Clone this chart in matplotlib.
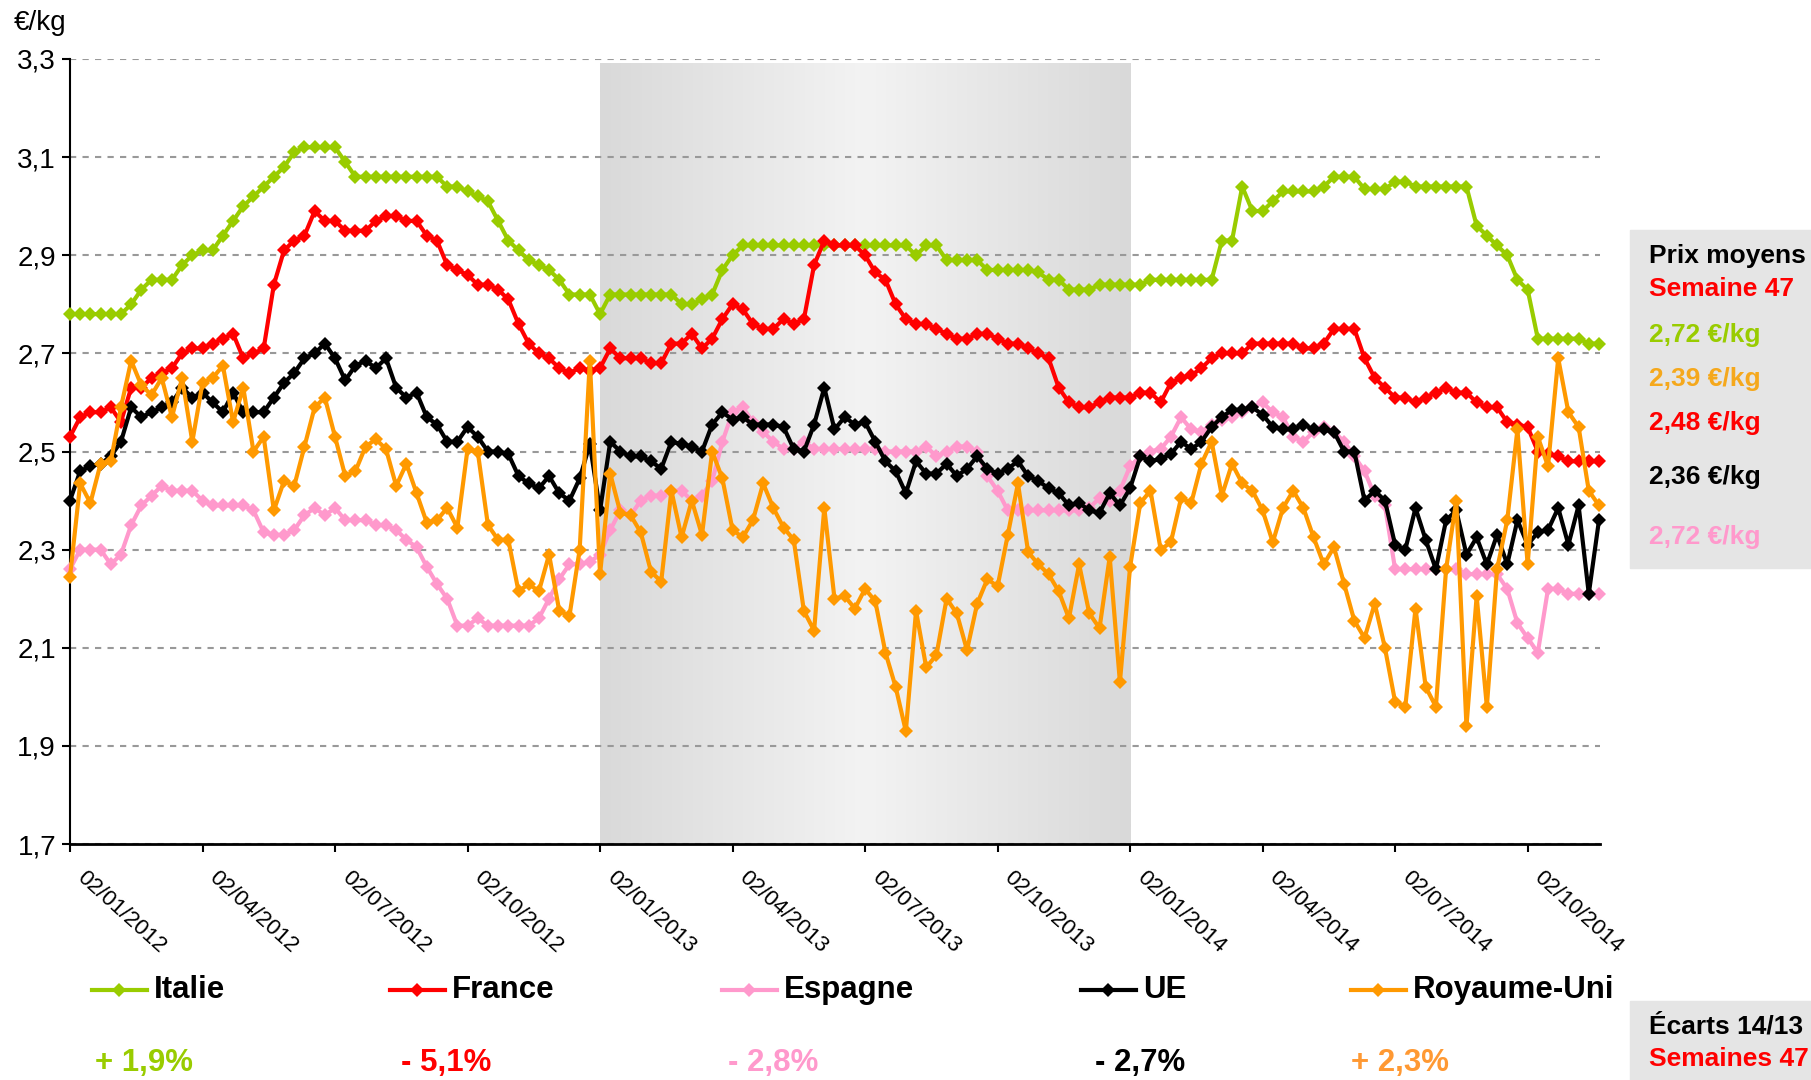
import numpy as np
import matplotlib
matplotlib.use('Agg')
import matplotlib.pyplot as plt
from matplotlib.colors import LinearSegmentedColormap
from matplotlib.lines import Line2D
from matplotlib.transforms import ScaledTranslation

plt.rcParams['font.family'] = ['Liberation Sans', 'DejaVu Sans']

# weekly prices, week 1 2012 -> week 47 2014 (151 weeks)
italie = [
    2.78, 2.78, 2.78, 2.78, 2.78, 2.78, 2.80, 2.83, 2.85, 2.85,
    2.85, 2.88, 2.90, 2.91, 2.91, 2.94, 2.97, 3.00, 3.02, 3.04,
    3.06, 3.08, 3.11, 3.12, 3.12, 3.12, 3.12, 3.09, 3.06, 3.06,
    3.06, 3.06, 3.06, 3.06, 3.06, 3.06, 3.06, 3.04, 3.04, 3.03,
    3.02, 3.01, 2.97, 2.93, 2.91, 2.89, 2.88, 2.87, 2.85, 2.82,
    2.82, 2.82, 2.78, 2.82, 2.82, 2.82, 2.82, 2.82, 2.82, 2.82,
    2.80, 2.80, 2.81, 2.82, 2.87, 2.90, 2.92, 2.92, 2.92, 2.92,
    2.92, 2.92, 2.92, 2.92, 2.92, 2.92, 2.92, 2.92, 2.92, 2.92,
    2.92, 2.92, 2.92, 2.90, 2.92, 2.92, 2.89, 2.89, 2.89, 2.89,
    2.87, 2.87, 2.87, 2.87, 2.87, 2.865, 2.85, 2.85, 2.83, 2.83,
    2.83, 2.84, 2.84, 2.84, 2.84, 2.84, 2.85, 2.85, 2.85, 2.85,
    2.85, 2.85, 2.85, 2.93, 2.93, 3.04, 2.99, 2.99, 3.01, 3.03,
    3.03, 3.03, 3.03, 3.04, 3.06, 3.06, 3.06, 3.035, 3.035, 3.035,
    3.05, 3.05, 3.04, 3.04, 3.04, 3.04, 3.04, 3.04, 2.96, 2.94,
    2.92, 2.90, 2.85, 2.83, 2.73, 2.73, 2.73, 2.73, 2.73, 2.72,
    2.72]
france = [
    2.53, 2.57, 2.58, 2.58, 2.59, 2.56, 2.63, 2.63, 2.65, 2.66,
    2.67, 2.70, 2.71, 2.71, 2.72, 2.73, 2.74, 2.69, 2.70, 2.71,
    2.84, 2.91, 2.93, 2.94, 2.99, 2.97, 2.97, 2.95, 2.95, 2.95,
    2.97, 2.98, 2.98, 2.97, 2.97, 2.94, 2.93, 2.88, 2.87, 2.86,
    2.84, 2.84, 2.83, 2.81, 2.76, 2.72, 2.70, 2.69, 2.67, 2.66,
    2.67, 2.665, 2.67, 2.71, 2.69, 2.69, 2.69, 2.68, 2.68, 2.72,
    2.72, 2.74, 2.71, 2.73, 2.77, 2.80, 2.79, 2.76, 2.75, 2.75,
    2.77, 2.76, 2.77, 2.88, 2.93, 2.92, 2.92, 2.92, 2.90, 2.865,
    2.85, 2.80, 2.77, 2.76, 2.76, 2.75, 2.74, 2.73, 2.73, 2.74,
    2.74, 2.73, 2.72, 2.72, 2.71, 2.70, 2.69, 2.63, 2.60, 2.59,
    2.59, 2.60, 2.61, 2.61, 2.61, 2.62, 2.62, 2.60, 2.64, 2.65,
    2.655, 2.67, 2.69, 2.70, 2.70, 2.70, 2.72, 2.72, 2.72, 2.72,
    2.72, 2.71, 2.71, 2.72, 2.75, 2.75, 2.75, 2.69, 2.65, 2.63,
    2.61, 2.61, 2.60, 2.61, 2.62, 2.63, 2.62, 2.62, 2.60, 2.59,
    2.59, 2.56, 2.555, 2.55, 2.50, 2.495, 2.49, 2.48, 2.48, 2.48,
    2.48]
espagne = [
    2.26, 2.30, 2.30, 2.30, 2.27, 2.29, 2.35, 2.39, 2.41, 2.43,
    2.42, 2.42, 2.42, 2.40, 2.39, 2.39, 2.39, 2.39, 2.38, 2.335,
    2.33, 2.33, 2.34, 2.37, 2.385, 2.37, 2.385, 2.36, 2.36, 2.36,
    2.35, 2.35, 2.34, 2.32, 2.305, 2.265, 2.23, 2.20, 2.145, 2.145,
    2.16, 2.145, 2.145, 2.145, 2.145, 2.145, 2.16, 2.20, 2.24, 2.27,
    2.27, 2.275, 2.29, 2.34, 2.38, 2.37, 2.40, 2.41, 2.41, 2.42,
    2.42, 2.40, 2.41, 2.44, 2.52, 2.58, 2.59, 2.56, 2.54, 2.52,
    2.505, 2.505, 2.52, 2.505, 2.505, 2.505, 2.505, 2.505, 2.505, 2.505,
    2.50, 2.50, 2.50, 2.50, 2.51, 2.49, 2.50, 2.51, 2.51, 2.50,
    2.45, 2.42, 2.38, 2.38, 2.38, 2.38, 2.38, 2.38, 2.38, 2.38,
    2.385, 2.405, 2.40, 2.42, 2.47, 2.49, 2.50, 2.505, 2.53, 2.57,
    2.545, 2.54, 2.555, 2.565, 2.57, 2.58, 2.59, 2.60, 2.58, 2.57,
    2.53, 2.52, 2.54, 2.55, 2.54, 2.52, 2.49, 2.46, 2.41, 2.39,
    2.26, 2.26, 2.26, 2.26, 2.26, 2.26, 2.26, 2.25, 2.25, 2.25,
    2.25, 2.22, 2.15, 2.12, 2.09, 2.22, 2.22, 2.21, 2.21, 2.21,
    2.21]
ue = [
    2.40, 2.46, 2.47, 2.475, 2.49, 2.52, 2.59, 2.57, 2.58, 2.59,
    2.60, 2.63, 2.61, 2.62, 2.60, 2.58, 2.62, 2.58, 2.58, 2.58,
    2.61, 2.64, 2.66, 2.69, 2.70, 2.72, 2.69, 2.645, 2.675, 2.685,
    2.67, 2.69, 2.63, 2.61, 2.62, 2.57, 2.555, 2.52, 2.52, 2.55,
    2.53, 2.50, 2.50, 2.495, 2.45, 2.435, 2.425, 2.45, 2.415, 2.40,
    2.445, 2.515, 2.38, 2.52, 2.50, 2.49, 2.49, 2.48, 2.465, 2.52,
    2.515, 2.51, 2.50, 2.555, 2.58, 2.565, 2.57, 2.555, 2.555, 2.555,
    2.55, 2.505, 2.50, 2.555, 2.63, 2.545, 2.57, 2.555, 2.56, 2.52,
    2.48, 2.46, 2.415, 2.48, 2.455, 2.455, 2.475, 2.45, 2.465, 2.49,
    2.465, 2.455, 2.465, 2.48, 2.45, 2.44, 2.425, 2.415, 2.39, 2.395,
    2.38, 2.375, 2.415, 2.39, 2.425, 2.49, 2.48, 2.485, 2.495, 2.52,
    2.505, 2.52, 2.55, 2.57, 2.585, 2.585, 2.59, 2.575, 2.55, 2.545,
    2.545, 2.555, 2.545, 2.545, 2.54, 2.50, 2.50, 2.40, 2.42, 2.40,
    2.31, 2.30, 2.385, 2.32, 2.26, 2.36, 2.38, 2.29, 2.325, 2.27,
    2.33, 2.27, 2.36, 2.31, 2.335, 2.34, 2.385, 2.31, 2.39, 2.21,
    2.36]
royaume_uni = [
    2.245, 2.435, 2.395, 2.475, 2.48, 2.59, 2.685, 2.635, 2.615, 2.65,
    2.57, 2.65, 2.52, 2.64, 2.65, 2.675, 2.56, 2.63, 2.50, 2.53,
    2.38, 2.44, 2.43, 2.51, 2.59, 2.61, 2.53, 2.45, 2.46, 2.51,
    2.525, 2.505, 2.43, 2.475, 2.415, 2.355, 2.36, 2.385, 2.345, 2.505,
    2.50, 2.35, 2.32, 2.32, 2.215, 2.23, 2.215, 2.29, 2.175, 2.165,
    2.30, 2.685, 2.25, 2.455, 2.375, 2.37, 2.335, 2.255, 2.235, 2.42,
    2.325, 2.40, 2.33, 2.50, 2.445, 2.34, 2.325, 2.36, 2.435, 2.385,
    2.345, 2.32, 2.175, 2.135, 2.385, 2.20, 2.205, 2.18, 2.22, 2.195,
    2.09, 2.02, 1.93, 2.175, 2.06, 2.085, 2.20, 2.17, 2.095, 2.19,
    2.24, 2.225, 2.33, 2.435, 2.295, 2.27, 2.25, 2.215, 2.16, 2.27,
    2.17, 2.14, 2.285, 2.03, 2.265, 2.395, 2.42, 2.30, 2.315, 2.405,
    2.395, 2.475, 2.52, 2.41, 2.475, 2.435, 2.42, 2.38, 2.315, 2.385,
    2.42, 2.385, 2.325, 2.27, 2.305, 2.23, 2.155, 2.12, 2.19, 2.10,
    1.99, 1.98, 2.18, 2.02, 1.98, 2.26, 2.40, 1.94, 2.205, 1.98,
    2.26, 2.36, 2.545, 2.27, 2.53, 2.47, 2.69, 2.58, 2.55, 2.42,
    2.39]

tick_pos = [0, 13, 26, 39, 52, 65, 78, 91, 104, 117, 130, 143]
tick_labels = ['02/01/2012', '02/04/2012', '02/07/2012', '02/10/2012',
               '02/01/2013', '02/04/2013', '02/07/2013', '02/10/2013',
               '02/01/2014', '02/04/2014', '02/07/2014', '02/10/2014']
y_ticks = [1.7, 1.9, 2.1, 2.3, 2.5, 2.7, 2.9, 3.1, 3.3]

names = ['Italie', 'France', 'Espagne', 'UE', 'Royaume-Uni']
colors = ['#99CC00', '#FF0000', '#FF99CC', '#000000', '#FF9900']
ecarts = ['+ 1,9%', '- 5,1%', '- 2,8%', '- 2,7%', '+ 2,3%']
ecart_colors = ['#99CC00', '#FF0000', '#FF99CC', '#000000', '#FF9933']
prix = ['2,72 €/kg', '2,39 €/kg', '2,48 €/kg', '2,36 €/kg', '2,72 €/kg']
prix_colors = ['#99CC00', '#F5A81C', '#FF0000', '#000000', '#FF99CC']

W, H = 1811, 1080
fig = plt.figure(figsize=(W / 100, H / 100), dpi=100)
ax = fig.add_axes([70 / W, 1 - 844 / H, (1600 - 70) / W, (844 - 59) / H])

# shaded 2013 band, dark at edges, light in the middle
cmap = LinearSegmentedColormap.from_list('band', ['#d9d9d9', '#f3f3f3', '#d9d9d9'])
ax.imshow(np.linspace(0, 1, 256)[None, :], cmap=cmap, aspect='auto',
          extent=(52, 104, 1.7, 3.29), zorder=0)

weeks = np.arange(len(italie))
series = [italie, france, espagne, ue, royaume_uni]
for vals, c in zip(series, colors):
    ax.plot(weeks, vals, color=c, lw=3, marker='D', ms=7.5, mew=0,
            clip_on=False, zorder=3)

ax.set_xlim(0, 150.1)
ax.set_ylim(1.7, 3.3)
ax.set_yticks(y_ticks)
ax.set_yticklabels([('%.1f' % v).replace('.', ',') for v in y_ticks], fontsize=20)
ax.set_xticks(tick_pos)
ax.set_xticklabels([])
# slanted date labels, placed by hand so they start right of the tick
lab_tr = ax.get_xaxis_transform() + ScaledTranslation(12 / 72, -16.5 / 72, fig.dpi_scale_trans)
for p, lab in zip(tick_pos, tick_labels):
    ax.text(p, 0, lab, transform=lab_tr, rotation=-42, ha='left', va='top',
            rotation_mode='anchor', fontsize=16)
ax.tick_params(axis='x', direction='out', length=6, width=1.5)
ax.tick_params(axis='y', direction='out', length=6, width=1.5, pad=4)
ax.set_axisbelow(True)
ax.yaxis.grid(True, linestyle=(0, (3, 3)), color='#999999', lw=1.5)
for s in ['top', 'right']:
    ax.spines[s].set_visible(False)
ax.spines['left'].set_linewidth(1.5)
ax.spines['bottom'].set_linewidth(2)
ax.set_facecolor('none')

fig.text(14 / W, 1 - 23 / H, '€/kg', fontsize=20, va='center')

# legend row and yearly gaps
leg_x = [92, 390, 722, 1081, 1351]
pct_x = [95, 401, 728, 1095, 1351]
for name, c, lx, px, txt, pc in zip(names, colors, leg_x, pct_x, ecarts, ecart_colors):
    y = 1 - 990 / H
    fig.add_artist(Line2D([lx / W, (lx + 55) / W], [y, y], color=c, lw=3,
                          transform=fig.transFigure))
    fig.add_artist(Line2D([(lx + 27) / W], [y], color=c, marker='D', ms=7.5,
                          mew=0, transform=fig.transFigure))
    fig.text((lx + 62) / W, y, name, fontsize=22.5, fontweight='bold', va='center')
    fig.text(px / W, 1 - 1063 / H, txt, fontsize=22.5, fontweight='bold',
             va='center', color=pc)

# right panel
fig.patches.append(plt.Rectangle((1630 / W, 1 - 568 / H), 181 / W, 338 / H,
                                 transform=fig.transFigure, color='#e5e5e5', zorder=0))
fig.text(1649 / W, 1 - 256 / H, 'Prix moyens', fontsize=19, fontweight='bold', va='center')
fig.text(1649 / W, 1 - 289 / H, 'Semaine 47', fontsize=19, fontweight='bold',
         va='center', color='#FF0000')
for t, c, yy in zip(prix, prix_colors, [335, 379, 423, 477, 537]):
    fig.text(1649 / W, 1 - yy / H, t, fontsize=19, fontweight='bold', va='center', color=c)

fig.patches.append(plt.Rectangle((1630 / W, 0), 181 / W, 79 / H,
                                 transform=fig.transFigure, color='#e5e5e5', zorder=0))
fig.text(1649 / W, 1 - 1027 / H, 'Écarts 14/13', fontsize=19, fontweight='bold', va='center')
fig.text(1649 / W, 1 - 1059 / H, 'Semaines 47', fontsize=19, fontweight='bold',
         va='center', color='#FF0000')

fig.savefig('out.png', dpi=100)
